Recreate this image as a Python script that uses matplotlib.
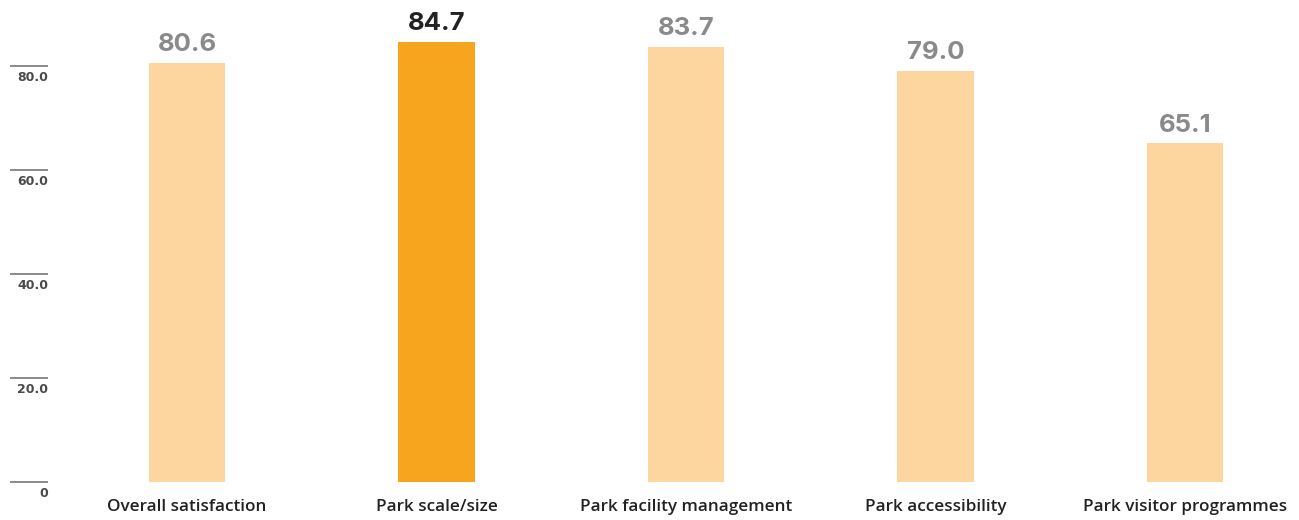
import matplotlib
matplotlib.use("Agg")
import matplotlib.pyplot as plt

categories = ["Overall satisfaction", "Park scale/size", "Park facility management",
              "Park accessibility", "Park visitor programmes"]
values = [80.6, 84.7, 83.7, 79.0, 65.1]
highlight = [False, True, False, False, False]
yticks = [0, 20, 40, 60, 80]
ytick_labels = ["0", "20.0", "40.0", "60.0", "80.0"]

light = "#FDD59E"
strong = "#F7A51F"

fig = plt.figure(figsize=(12.99, 5.20), dpi=100)
ax = fig.add_axes([0, 0, 1, 1])
ax.set_xlim(-0.7495, 4.457)
ax.set_ylim(-7.31, 92.69)
ax.axis("off")

x = list(range(len(categories)))
colors = [strong if h else light for h in highlight]
ax.bar(x, values, width=0.305, color=colors, zorder=2)

for xi, v, h in zip(x, values, highlight):
    ax.annotate(f"{v:.1f}", (xi, v), xytext=(0, 8.5), textcoords="offset points",
                ha="center", va="baseline", fontsize=18.5, fontweight="bold",
                family="Inter", color="#222222" if h else "#8a8a8a")

for xi, c in zip(x, categories):
    ax.text(xi, -4.8, c, ha="center", va="center", fontsize=12.3,
            family="Open Sans", fontweight="semibold", color="#222222")

for t, lab in zip(yticks, ytick_labels):
    ax.hlines(t, -0.709, -0.557, color="#777777", linewidth=1.2)
    ax.text(-0.557, t - 0.9, lab, ha="right", va="top", fontsize=9,
            fontweight="bold", family="DejaVu Sans", color="#4a4a4a")

fig.savefig("out.png", dpi=100)
